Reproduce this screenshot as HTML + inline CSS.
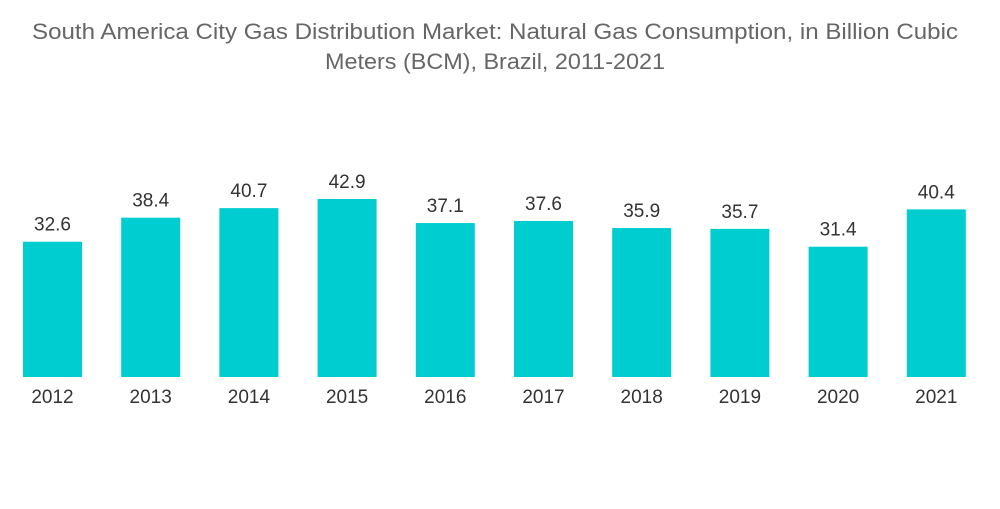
<!DOCTYPE html>
<html><head><meta charset="utf-8"><style>
body{margin:0;background:#fff;width:1000px;height:504px;overflow:hidden;font-family:"Liberation Sans",sans-serif}
</style></head><body>
<svg id="chart" width="1000" height="504">
<text x="495" y="39" text-anchor="middle" font-size="22" fill="#666" textLength="926" lengthAdjust="spacingAndGlyphs">South America City Gas Distribution Market: Natural Gas Consumption, in Billion Cubic</text>
<text x="495" y="69" text-anchor="middle" font-size="22" fill="#666" textLength="340" lengthAdjust="spacingAndGlyphs">Meters (BCM), Brazil, 2011-2021</text>
<g id="bars"></g>
</svg>
<script>
const categories=["2012","2013","2014","2015","2016","2017","2018","2019","2020","2021"];
const values=[32.6,38.4,40.7,42.9,37.1,37.6,35.9,35.7,31.4,40.4];
const labels=["32.6","38.4","40.7","42.9","37.1","37.6","35.9","35.7","31.4","40.4"];
const base=377,scale=178/42.9,x0=23,step=98.2,bw=59;
function xPos(i){return x0+i*step;}
function yPos(v){return base-v*scale;}
const g=document.getElementById('bars'),ns="http://www.w3.org/2000/svg";
categories.forEach((c,i)=>{
  const r=document.createElementNS(ns,'rect');
  r.setAttribute('x',xPos(i));r.setAttribute('y',yPos(values[i]));
  r.setAttribute('width',bw);r.setAttribute('height',base-yPos(values[i]));
  r.setAttribute('fill','#00cdd0');
  
  
  g.appendChild(r);
  const t=document.createElementNS(ns,'text');
  t.setAttribute('x',xPos(i)+bw/2);t.setAttribute('y',yPos(values[i])-11);
  t.setAttribute('text-anchor','middle');t.setAttribute('font-size','19');t.setAttribute('fill','#333');
  t.textContent=labels[i];
  
  
  g.appendChild(t);
  const a=document.createElementNS(ns,'text');
  a.setAttribute('x',xPos(i)+bw/2);a.setAttribute('y',403);
  a.setAttribute('text-anchor','middle');a.setAttribute('font-size','19');a.setAttribute('fill','#333');
  a.textContent=c;
  
  
  g.appendChild(a);
});
</script>
</body></html>
